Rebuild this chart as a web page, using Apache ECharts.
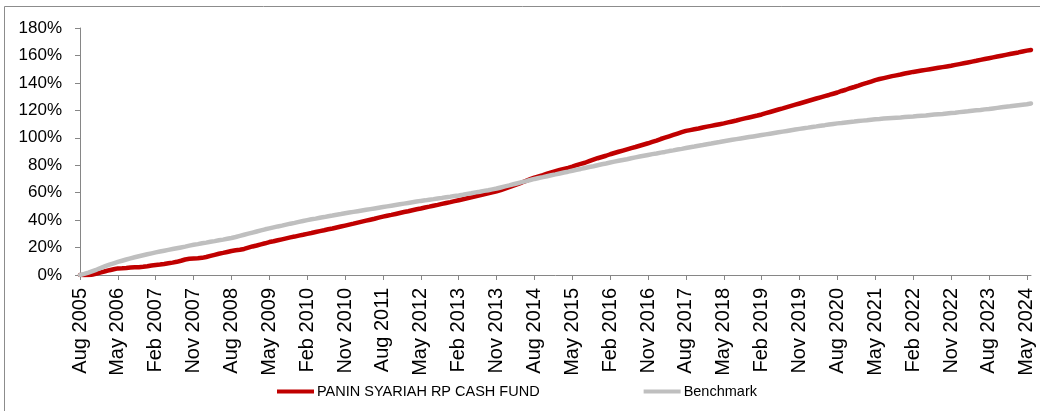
<!DOCTYPE html>
<html>
<head>
<meta charset="utf-8">
<script src="https://cdn.jsdelivr.net/npm/echarts@6/dist/echarts.min.js"></script>
<style>
html,body{margin:0;padding:0;background:#fff;}
#chart{width:1040px;height:411px;}
</style>
</head>
<body>
<div id="chart"></div>
<script>
// Monthly categories from Aug 2005 to Jun 2024
var monthNames = ["Jan","Feb","Mar","Apr","May","Jun","Jul","Aug","Sep","Oct","Nov","Dec"];
var startYear = 2005, startMonth = 7, monthCount = 227;
var categories = [];
for (var i = 0; i < monthCount; i++) {
  var m = (startMonth + i) % 12;
  var y = startYear + Math.floor((startMonth + i) / 12);
  categories.push(monthNames[m] + " " + y);
}

var yTicks = [0, 20, 40, 60, 80, 100, 120, 140, 160, 180];

var seriesNames = ["PANIN SYARIAH RP CASH FUND", "Benchmark"];

var fundValues = [
  0, -0.3, -0.2, 0.4, 1.1, 1.9, 2.7, 3.5, 4.2, 4.8,
  4.9, 5.1, 5.4, 5.6, 5.7, 6.0, 6.4, 6.9, 7.3,
  7.6, 8.0, 8.5, 9.0, 9.6, 10.4, 11.3, 11.8, 12.0,
  12.2, 12.5, 13.1, 13.9, 14.7, 15.5, 16.1, 16.8, 17.5,
  18.0, 18.4, 19.0, 19.9, 20.8, 21.5, 22.3, 23.1, 24.0,
  24.6, 25.3, 26.0, 26.7, 27.4, 28.0, 28.7, 29.3, 30.0,
  30.6, 31.3, 32.0, 32.6, 33.3, 33.9, 34.6, 35.3, 36.0,
  36.7, 37.4, 38.2, 38.9, 39.6, 40.3, 41.0, 41.8, 42.5,
  43.2, 43.8, 44.5, 45.2, 45.9, 46.5, 47.2, 47.9, 48.5,
  49.2, 49.8, 50.5, 51.1, 51.8, 52.5, 53.1, 53.8, 54.5,
  55.2, 55.9, 56.6, 57.3, 58.0, 58.8, 59.5, 60.2, 61.0,
  61.9, 63.0, 64.1, 65.2, 66.3, 67.4, 68.6, 69.8, 71.0,
  71.9, 72.8, 73.8, 74.7, 75.6, 76.5, 77.3, 78.1, 79.0,
  80.1, 81.0, 81.8, 82.9, 84.0, 85.1, 86.0, 86.9, 88.0,
  88.9, 89.8, 90.7, 91.6, 92.5, 93.3, 94.2, 95.1, 96.0,
  97.0, 98.0, 99.1, 100.1, 101.1, 102.1, 103.1, 104.1, 105.0,
  105.6, 106.2, 106.8, 107.5, 108.1, 108.7, 109.3, 109.9, 110.5,
  111.2, 111.9, 112.6, 113.4, 114.1, 114.8, 115.5, 116.2, 117.0,
  117.9, 118.8, 119.7, 120.6, 121.4, 122.3, 123.2, 124.1, 125.0,
  125.9, 126.8, 127.7, 128.6, 129.5, 130.4, 131.2, 132.1, 133.0,
  134.1, 135.0, 136.1, 137.0, 138.0, 139.1, 140.0, 141.0, 142.0,
  142.8, 143.5, 144.2, 144.9, 145.5, 146.1, 146.8, 147.4, 148.0,
  148.5, 149.0, 149.5, 150.0, 150.5, 151.0, 151.5, 152.0, 152.5,
  153.1, 153.7, 154.3, 154.9, 155.5, 156.1, 156.8, 157.4, 158.0,
  158.6, 159.2, 159.8, 160.4, 161.0, 161.6, 162.2, 162.9, 163.5,
  164.0
];

var benchmarkValues = [
  0, 0.8, 1.8, 2.9, 4.0, 5.2, 6.4, 7.5, 8.5, 9.5,
  10.4, 11.3, 12.1, 12.9, 13.7, 14.4, 15.1, 15.8, 16.5,
  17.1, 17.7, 18.3, 18.9, 19.5, 20.1, 20.7, 21.4, 22.0,
  22.5, 23.1, 23.6, 24.2, 24.7, 25.3, 25.8, 26.4, 27.0,
  27.7, 28.5, 29.3, 30.1, 30.9, 31.7, 32.5, 33.3, 34.0,
  34.7, 35.4, 36.0, 36.7, 37.4, 38.0, 38.7, 39.4, 40.0,
  40.6, 41.1, 41.7, 42.2, 42.8, 43.3, 43.9, 44.4, 45.0,
  45.5, 46.0, 46.5, 47.0, 47.5, 48.0, 48.5, 49.0, 49.5,
  50.0, 50.5, 51.0, 51.5, 52.0, 52.5, 53.0, 53.5, 54.0,
  54.4, 54.9, 55.3, 55.8, 56.2, 56.7, 57.1, 57.6, 58.0,
  58.5, 59.1, 59.6, 60.2, 60.7, 61.3, 61.8, 62.4, 63.0,
  63.8, 64.6, 65.3, 66.1, 66.9, 67.7, 68.4, 69.2, 70.0,
  70.7, 71.3, 72.0, 72.7, 73.3, 74.0, 74.7, 75.3, 76.0,
  76.7, 77.3, 78.0, 78.7, 79.3, 80.0, 80.7, 81.3, 82.0,
  82.6, 83.2, 83.8, 84.4, 85.1, 85.7, 86.3, 86.9, 87.5,
  88.1, 88.6, 89.2, 89.7, 90.3, 90.8, 91.4, 91.9, 92.5,
  93.1, 93.6, 94.2, 94.7, 95.3, 95.8, 96.4, 96.9, 97.5,
  98.0, 98.5, 99.0, 99.5, 100.0, 100.5, 101.0, 101.5, 102.0,
  102.5, 103.0, 103.5, 104.0, 104.5, 105.0, 105.5, 106.0, 106.5,
  107.0, 107.4, 107.9, 108.3, 108.8, 109.2, 109.7, 110.1, 110.5,
  110.8, 111.2, 111.5, 111.8, 112.2, 112.5, 112.8, 113.2, 113.5,
  113.7, 114.0, 114.2, 114.4, 114.6, 114.8, 115.1, 115.3, 115.5,
  115.8, 116.1, 116.3, 116.6, 116.9, 117.2, 117.4, 117.7, 118.0,
  118.3, 118.7, 119.0, 119.3, 119.7, 120.0, 120.3, 120.7, 121.0,
  121.4, 121.8, 122.2, 122.6, 122.9, 123.3, 123.7, 124.1, 124.5,
  125.0
];

var FONT = "Liberation Sans, Arial, sans-serif";
var chart = echarts.init(document.getElementById('chart'), null, {renderer: 'canvas'});
chart.setOption({
  animation: false,
  backgroundColor: '#ffffff',
  graphic: [{
    type: 'rect', silent: true,
    shape: {x: 4.5, y: 6.5, width: 1040, height: 420},
    style: {fill: 'none', stroke: '#8c8c8c', lineWidth: 1}
  }],
  grid: {left: 80, right: 9, top: 28, bottom: 136, containLabel: false},
  legend: {
    left: 272, top: 379,
    itemWidth: 37, itemHeight: 4, itemGap: 104,
    icon: 'rect',
    textStyle: {fontFamily: FONT, fontSize: 14.5, color: '#000', padding: [0, 0, 0, -2]},
    data: seriesNames
  },
  xAxis: {
    type: 'category',
    data: categories,
    boundaryGap: false,
    axisLine: {lineStyle: {color: '#868686', width: 1}},
    axisTick: {show: true, interval: 8, length: 5, lineStyle: {color: '#868686'}},
    axisLabel: {
      interval: 8, rotate: 90, margin: 13,
      fontFamily: FONT, fontSize: 20, color: '#000'
    },
    splitLine: {show: false}
  },
  yAxis: {
    type: 'value',
    min: yTicks[0], max: yTicks[yTicks.length - 1], interval: 20,
    axisLine: {show: true, lineStyle: {color: '#868686', width: 1}},
    axisTick: {show: true, length: 5, lineStyle: {color: '#868686'}},
    axisLabel: {
      formatter: '{value}%', margin: 18,
      fontFamily: FONT, fontSize: 17, color: '#000'
    },
    splitLine: {show: false}
  },
  series: [
    {
      name: seriesNames[0], type: 'line', data: fundValues,
      showSymbol: false, symbol: 'none',
      lineStyle: {color: '#C00000', width: 4.5, cap: 'round', join: 'round'},
      itemStyle: {color: '#C00000'}
    },
    {
      name: seriesNames[1], type: 'line', data: benchmarkValues,
      showSymbol: false, symbol: 'none',
      lineStyle: {color: '#BFBFBF', width: 4.5, cap: 'round', join: 'round'},
      itemStyle: {color: '#BFBFBF'}
    }
  ]
});
</script>
</body>
</html>
